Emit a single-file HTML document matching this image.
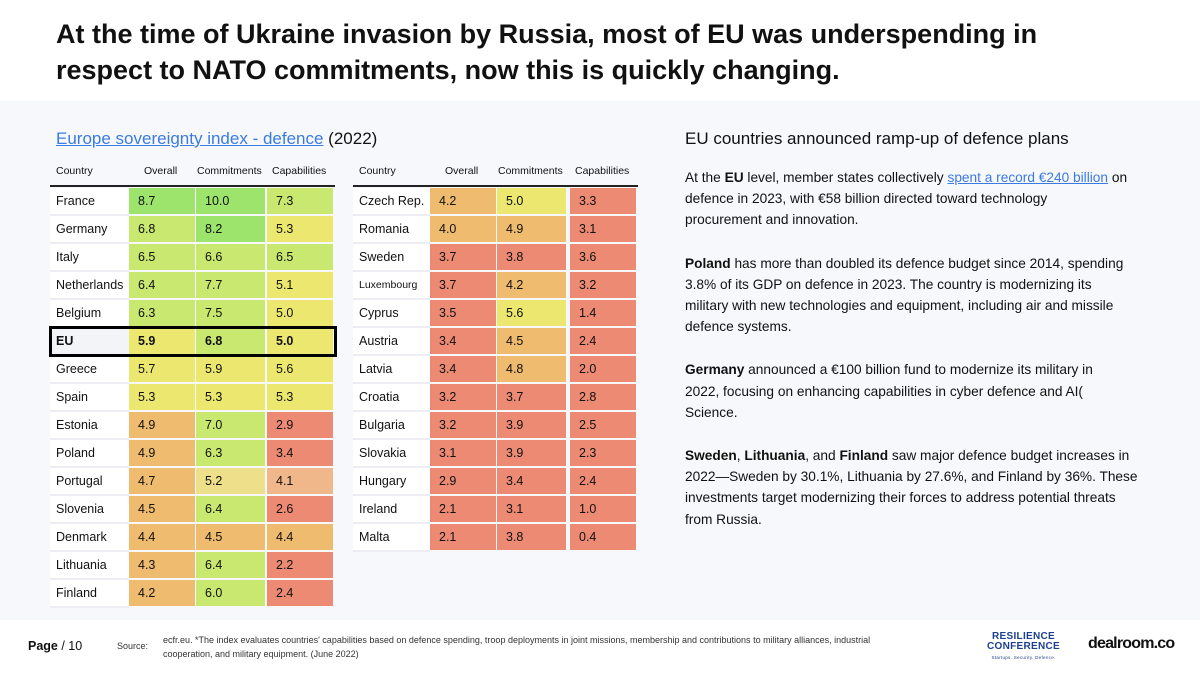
<!DOCTYPE html>
<html><head><meta charset="utf-8">
<style>
*{box-sizing:border-box;margin:0;padding:0}
body{width:1200px;height:675px;overflow:hidden;background:#fff;font-family:"Liberation Sans",sans-serif;color:#111;position:relative}
#title{position:absolute;left:56px;top:16px;font-size:27px;font-weight:bold;line-height:36px;letter-spacing:0px}
#panel{position:absolute;left:0;top:101px;width:1200px;height:519px;background:#f7f8fc}
.abs{position:absolute;white-space:nowrap}
.cell{position:absolute;font-size:12.5px;line-height:26px;padding-left:9px}
.hdr{position:absolute;font-size:10.5px;top:165px}
#right p{font-size:13.7px;line-height:21.2px;margin-bottom:22px;white-space:nowrap}
#right a,#sub a{color:#3b7be0;text-decoration:underline}
</style></head><body>
<div id="title">At the time of Ukraine invasion by Russia, most of EU was underspending in<br>respect to NATO commitments, now this is quickly changing.</div>
<div id="panel"></div>
<div id="sub" class="abs" style="left:56px;top:129px;font-size:17px"><a>Europe sovereignty index - defence</a> (2022)</div>
<div id="tables"></div>
<div class="abs" style="left:685px;top:129px;font-size:17px">EU countries announced ramp-up of defence plans</div>
<div id="right" class="abs" style="left:685px;top:167px">
<p>At the <b>EU</b> level, member states collectively <a>spent a record €240 billion</a> on<br>defence in 2023, with €58 billion directed toward technology<br>procurement and innovation.</p>
<p><b>Poland</b> has more than doubled its defence budget since 2014, spending<br>3.8% of its GDP on defence in 2023. The country is modernizing its<br>military with new technologies and equipment, including air and missile<br>defence systems.</p>
<p><b>Germany</b> announced a €100 billion fund to modernize its military in<br>2022, focusing on enhancing capabilities in cyber defence and AI(<br>Science.</p>
<p><b>Sweden</b>, <b>Lithuania</b>, and <b>Finland</b> saw major defence budget increases in<br>2022—Sweden by 30.1%, Lithuania by 27.6%, and Finland by 36%. These<br>investments target modernizing their forces to address potential threats<br>from Russia.</p>
</div>
<div class="abs" style="left:28px;top:639px;font-size:12.5px"><b style="font-weight:600">Page</b> / 10</div>
<div class="abs" style="left:117px;top:641px;font-size:9px;color:#333">Source:</div>
<div class="abs" style="left:163px;top:633px;font-size:9px;line-height:14px;color:#333">ecfr.eu. *The index evaluates countries' capabilities based on defence spending, troop deployments in joint missions, membership and contributions to military alliances, industrial<br>cooperation, and military equipment. (June 2022)</div>
<div class="abs" style="left:987px;top:632px;font-size:10px;line-height:10px;font-weight:bold;color:#1d3f8f;text-align:center;letter-spacing:0.3px">RESILIENCE<br>CONFERENCE<br><span style="font-size:4.5px;font-weight:normal">Startups. Security. Defence.</span></div>
<div class="abs" style="left:1088px;top:635px;font-size:16px;font-weight:bold;letter-spacing:-0.8px">dealroom.co</div>
<script>
const leftCountries=["France","Germany","Italy","Netherlands","Belgium","EU","Greece","Spain","Estonia","Poland","Portugal","Slovenia","Denmark","Lithuania","Finland"];
const leftOverall=[8.7,6.8,6.5,6.4,6.3,5.9,5.7,5.3,4.9,4.9,4.7,4.5,4.4,4.3,4.2];
const leftCommit=[10.0,8.2,6.6,7.7,7.5,6.8,5.9,5.3,7.0,6.3,5.2,6.4,4.5,6.4,6.0];
const leftCap=[7.3,5.3,6.5,5.1,5.0,5.0,5.6,5.3,2.9,3.4,4.1,2.6,4.4,2.2,2.4];
const rightCountries=["Czech Rep.","Romania","Sweden","Luxembourg","Cyprus","Austria","Latvia","Croatia","Bulgaria","Slovakia","Hungary","Ireland","Malta"];
const rightOverall=[4.2,4.0,3.7,3.7,3.5,3.4,3.4,3.2,3.2,3.1,2.9,2.1,2.1];
const rightCommit=[5.0,4.9,3.8,4.2,5.6,4.5,4.8,3.7,3.9,3.9,3.4,3.1,3.8];
const rightCap=[3.3,3.1,3.6,3.2,1.4,2.4,2.0,2.8,2.5,2.3,2.4,1.0,0.4];
function color(v){if(v>=8)return"#9de46c";if(v>=6)return"#c9e86f";if(v>=5)return"#ece86f";if(v>=4)return"#efbb6e";return"#ec8a73";}
const root=document.getElementById('tables');
function mk(cls,l,t,w,h,txt){const d=document.createElement('div');d.className=cls;d.style.left=l+'px';d.style.top=t+'px';if(w)d.style.width=w+'px';if(h)d.style.height=h+'px';if(txt!==undefined)d.textContent=txt;root.appendChild(d);return d;}
function table(x0,cols,countries,ov,cm,cp,name){
  const hs=["Country","Overall","Commitments","Capabilities"];
  const hx=[x0+6,cols[0]+15,cols[1]+1,cols[2]+5];
  hs.forEach((h,i)=>{const e=mk('hdr',hx[i],165,null,null,h);
  
  });
  const line=mk('abs',x0,185,null,2);line.style.background='#222';line.style.width=(cols[2]+68-x0)+'px';
  
  
  countries.forEach((c,r)=>{
    const y=188+r*28;
    const bold=c==="EU";
    const rb=mk('abs',x0,y+26,cols[0]-x0,2);rb.style.background='#eceef3';
    
    
    const ce=mk('cell',x0,y,cols[0]-x0,26,c);ce.style.paddingLeft='6px';ce.style.background=bold?'#f3f4f8':'#fff';
    if(c==="Luxembourg")ce.style.fontSize='10.5px';
    if(bold)ce.style.fontWeight='bold';
    
    
    [ov[r],cm[r],cp[r]].forEach((v,i)=>{
      const w=i===1?70:67;
      const e=mk('cell',cols[i],y,w-1,26,v.toFixed(1));e.style.background=color(v);
      if(c==="Portugal"&&i===1)e.style.background="#eee08a";
      if(c==="Portugal"&&i===2)e.style.background="#f0b88a";
      if(bold)e.style.fontWeight='bold';
      
      
    });
  });
}
table(50,[129,196,267],leftCountries,leftOverall,leftCommit,leftCap,'left');
table(353,[430,497,570],rightCountries,rightOverall,rightCommit,rightCap,'right');
const hl=mk('abs',49,326,288,31);hl.style.border='3px solid #000';


</script>
</body></html>
